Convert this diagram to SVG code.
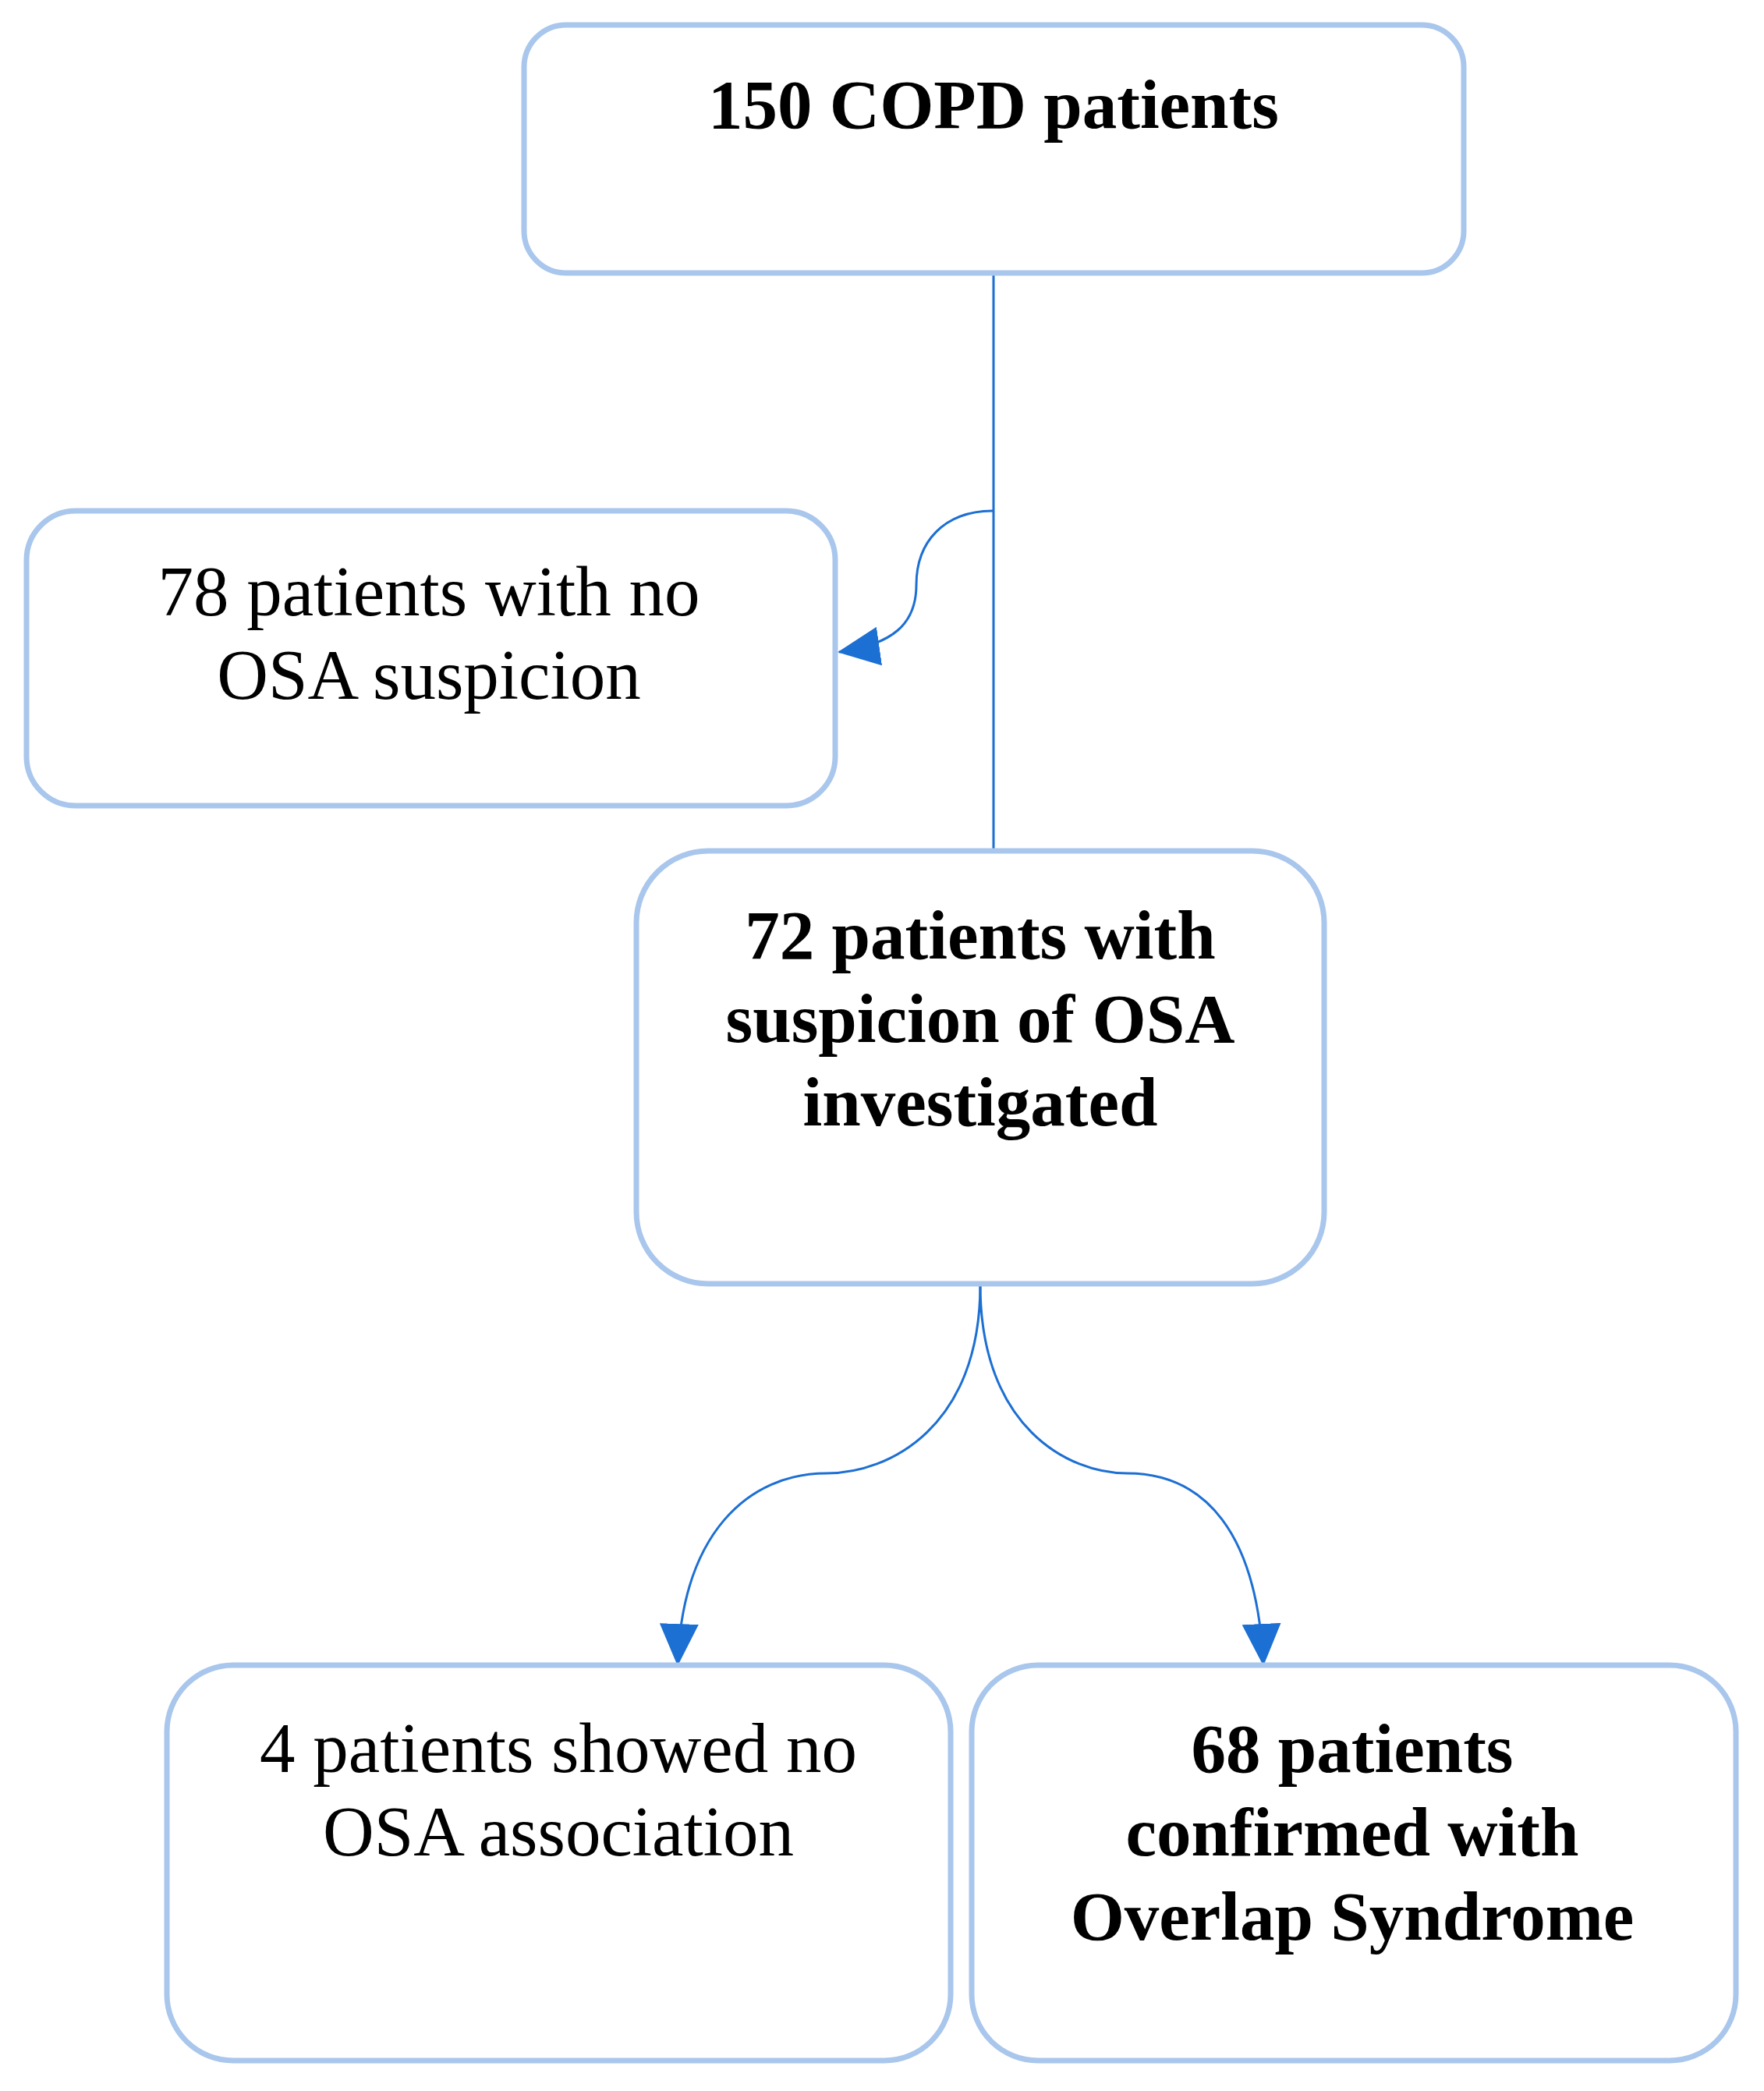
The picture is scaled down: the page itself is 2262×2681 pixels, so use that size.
<svg xmlns="http://www.w3.org/2000/svg" width="2262" height="2681" viewBox="0 0 2262 2681">
<defs>
<style>
.box{fill:#ffffff;stroke:#A9C6EC;stroke-width:7}
.conn{fill:none;stroke:#1C6FD3;stroke-width:3}
.t{font-family:"Liberation Serif","DejaVu Serif",serif;font-size:91px;fill:#000;text-anchor:middle}
.b{font-weight:bold;font-size:89px}
</style>
<marker id="arr" viewBox="0 0 54 50" refX="52" refY="25" markerWidth="54" markerHeight="50" markerUnits="userSpaceOnUse" orient="auto">
<path d="M0,0 L54,25 L0,50 Z" fill="#1C6FD3"/>
</marker>
</defs>
<rect width="2262" height="2681" fill="#ffffff"/>
<g id="connectors">
<line class="conn" x1="1274" y1="351" x2="1274" y2="1089"/>
<path class="conn" marker-end="url(#arr)" d="M1274,655 C1210,655 1175,695 1175,750 C1175,800 1145,826 1076,836"/>
<path class="conn" marker-end="url(#arr)" d="M1257,1647 C1257,1830 1140,1889 1060,1889 C960,1889 875,1965 869,2134"/>
<path class="conn" marker-end="url(#arr)" d="M1257,1647 C1257,1830 1370,1889 1445,1889 C1545,1889 1612,1965 1620,2134"/>
</g>
<g id="n1">
<rect class="box" x="672" y="32" width="1205" height="318" rx="54" ry="54"/>
<text class="t b" x="1274" y="164">150 COPD patients</text>
</g>
<g id="n2">
<rect class="box" x="34" y="655" width="1037" height="378" rx="63" ry="63"/>
<text class="t" x="550" y="789">78 patients with no</text>
<text class="t" x="550" y="896">OSA suspicion</text>
</g>
<g id="n3">
<rect class="box" x="816" y="1091" width="882" height="555" rx="92" ry="92"/>
<text class="t b" x="1257" y="1229">72 patients with</text>
<text class="t b" x="1257" y="1336">suspicion of OSA</text>
<text class="t b" x="1257" y="1443">investigated</text>
</g>
<g id="n4">
<rect class="box" x="214" y="2135" width="1005" height="507" rx="85" ry="85"/>
<text class="t" x="716" y="2272">4 patients showed no</text>
<text class="t" x="716" y="2379">OSA association</text>
</g>
<g id="n5">
<rect class="box" x="1246" y="2135" width="980" height="507" rx="85" ry="85"/>
<text class="t b" x="1734" y="2272">68 patients</text>
<text class="t b" x="1734" y="2379">confirmed with</text>
<text class="t b" x="1734" y="2487">Overlap Syndrome</text>
</g>
</svg>
